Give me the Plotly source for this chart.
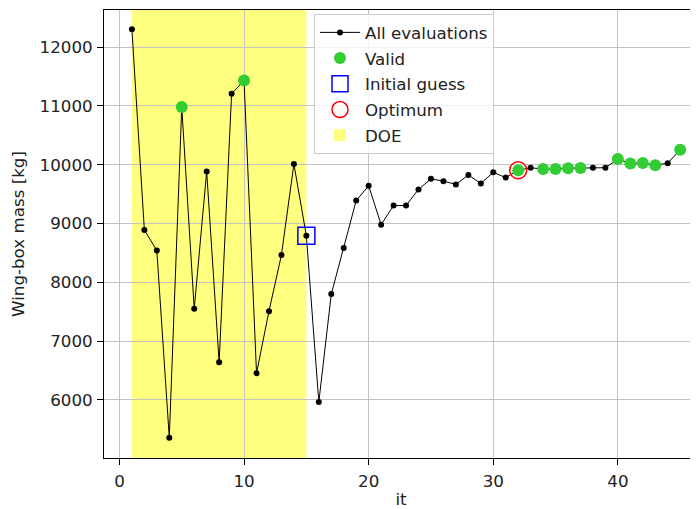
import plotly.graph_objects as go

# ---- data ----
iterations = list(range(1, 46))
mass = [12300, 8890, 8540, 5360, 10980, 7550, 9885, 6640, 11205, 11430,
        6455, 7510, 8465, 10010, 8790, 5965, 7800, 8585, 9390, 9640,
        8980, 9305, 9305, 9580, 9760, 9720, 9665, 9825, 9680, 9870,
        9780, 9905, 9948, 9925, 9925, 9940, 9945, 9948, 9948, 10095,
        10020, 10030, 9990, 10025, 10255]
valid_its = [5, 10, 32, 34, 35, 36, 37, 40, 41, 42, 43, 45]
initial_guess_it = 15
optimum_it = 32
doe_start, doe_end = 1, 15
x_ticks = [0, 10, 20, 30, 40]
y_ticks = [6000, 7000, 8000, 9000, 10000, 11000, 12000]

valid_mass = [mass[i - 1] for i in valid_its]

FONT = "DejaVu Sans"
TXT = "#222"
FS = 16.7
fig = go.Figure()

fig.add_vrect(x0=doe_start, x1=doe_end, fillcolor="rgba(255,255,0,0.5)",
              line_width=0, layer="below", showlegend=True, name="DOE",
              legendrank=1005, legendgroup="g5")

fig.add_trace(go.Scatter(x=iterations, y=mass, mode="lines+markers", name="All evaluations",
                         line=dict(color="black", width=1),
                         marker=dict(color="black", size=6), legendrank=1000, legendgroup="g1"))
fig.add_trace(go.Scatter(x=valid_its, y=valid_mass, mode="markers", name="Valid",
                         marker=dict(color="#32cd32", size=12), legendrank=1001, legendgroup="g2"))
fig.add_trace(go.Scatter(x=[initial_guess_it], y=[mass[initial_guess_it - 1]], mode="markers",
                         name="Initial guess",
                         marker=dict(symbol="square-open", color="blue", size=17, line=dict(width=1.5)),
                         legendrank=1002, legendgroup="g3"))
fig.add_trace(go.Scatter(x=[optimum_it], y=[mass[optimum_it - 1]], mode="markers",
                         name="Optimum",
                         marker=dict(symbol="circle-open", color="red", size=17, line=dict(width=1.5)),
                         legendrank=1003, legendgroup="g4"))

axis_common = dict(showgrid=True, gridcolor="#c4c4c4", gridwidth=1,
                   ticks="outside", ticklen=6, tickcolor="black", tickwidth=1,
                   showline=True, linecolor="black", linewidth=1, automargin=False,
                   zeroline=False, tickfont=dict(family=FONT, size=FS, color=TXT))

fig.update_xaxes(range=[-1.24, 46.43], tickvals=x_ticks, mirror=True, ticklabelstandoff=2,
                 title=dict(text="it", font=dict(family=FONT, size=FS, color=TXT), standoff=12),
                 **axis_common)
fig.update_yaxes(range=[5014, 12629], tickvals=y_ticks, tickformat="d", ticklabelstandoff=1,
                 title=dict(text="Wing-box mass [kg]", font=dict(family=FONT, size=FS, color=TXT),
                            standoff=12),
                 **axis_common)

# page body has an 8px default margin: compensate so the plot area lands where it should
fig.update_layout(
    width=690, height=501,
    margin=dict(l=96, r=0, t=2, b=51),
    paper_bgcolor="white", plot_bgcolor="white",
    font=dict(family=FONT, size=FS, color=TXT),
    legend=dict(x=0.3535, y=0.991, xanchor="left", yanchor="top",
                bgcolor="rgba(255,255,255,0.8)", bordercolor="#cccccc", borderwidth=1,
                font=dict(family=FONT, size=FS, color=TXT), tracegroupgap=1,
                itemwidth=40, traceorder="grouped"),
    showlegend=True,
)

fig.write_html("out.html")
